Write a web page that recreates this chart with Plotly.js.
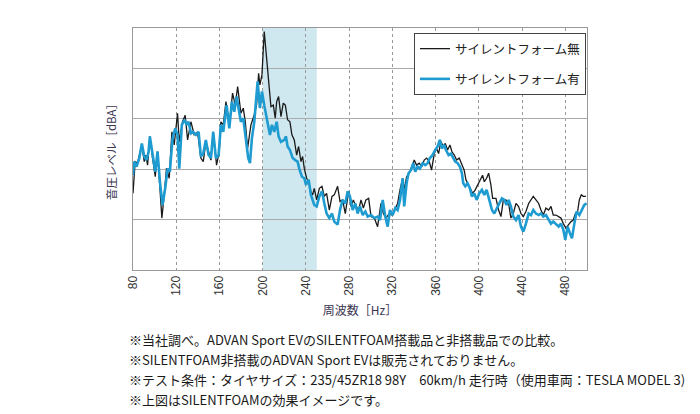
<!DOCTYPE html>
<html>
<head>
<meta charset="utf-8">
<script src="https://cdn.plot.ly/plotly-3.0.1.min.js"></script>
<style>
html,body{margin:0;padding:0;background:#fff;}
#chart{width:700px;height:414px;}
</style>
</head>
<body>
<div id="chart"></div>
<script>
// Frequency [Hz] and level (relative dBA units)
var freqNoFoam = [80,82,84.2,88.2,90.4,91.9,93.5,95.6,98.1,100.6,102.7,104.9,106.7,108.9,111,113.5,116,118.1,121.2,122.8,125.8,128.3,130.5,133.6,136.6,139.7,142.8,145,147.4,149.9,152.1,154.2,157.3,159.8,161.3,163.5,166,169.1,172.1,174.6,176.8,179.8,182,183.9,186,189.1,192.2,194.3,196.2,197.4,199.3,201.4,203,204.5,206.1,207.6,209.8,211.6,212.9,214.7,216.9,219,220.9,223,225.2,227,229.2,231.4,233.2,235.4,236.9,238.5,240.6,242.5,244.6,246.2,247.7,249.9,252.4,254.8,257,259.1,261.6,264.1,266.2,269.3,271.5,273.9,276.4,279.5,281.7,283.8,286.3,288.8,290.9,293.1,295.5,298,300.2,303.2,306.3,309.4,311.6,314,317.1,319.6,322.7,324.8,327,329.5,330.9,333.1,335.6,338,340.2,342.3,344.8,347.3,349.4,351.6,354.1,356.2,358.7,360.8,362.7,364.9,367,368.9,371,373.2,375,377.2,379.4,381.8,384.3,386.4,388,389.5,391.7,394.2,396.6,398.8,400.9,403.4,405,407.1,409,411.1,412.7,415.8,418.2,420.4,422.6,425,427.5,429.6,431.8,434.3,436.7,438.9,441.1,443.5,446,448.2,450.3,452.8,455.3,457.4,459.6,462,464.5,466.7,468.8,471.3,473.8,475.9,478.1,480.5,483,485.2,487.3,489.2,491.3,492.9,494.7,496.6,499];
var levelNoFoam = [15.2,21.5,21.2,24.8,21.5,22.8,20.8,26.5,22.2,18.5,23.5,16.2,10.3,14.9,20.2,18.2,27.4,24.8,31.1,25.4,29.4,30.7,25.8,29.4,26.8,27.4,22.2,21.5,25.4,23.5,21.8,27.4,20.8,23.5,29.4,28.8,33.4,28.8,35.1,32.7,36.4,31.1,32.1,29.4,24.1,28.8,30.8,32.7,39,36.7,38.7,47.3,43.3,40,35.4,32.4,32.7,30.1,33.4,34.4,30.4,33.1,32.7,29.8,29.4,26.8,25.8,22.8,24.5,21.5,22.5,20.1,18.2,17.5,15.5,14.9,16.2,13.9,16.2,16.6,14.6,15.2,11.9,14.6,14.9,16.6,13.6,13.9,11.2,15.6,12.6,13.9,12.6,11.9,13.9,12.3,13.9,14.2,10.6,10.3,8.6,13.2,11.2,10.3,11.2,10.9,12.3,13.2,15.9,18.2,15.9,18.5,19.2,20.5,21.8,20.8,21.2,20.5,21.8,22.2,21.5,19.8,23.1,24.1,23.1,25.5,24.5,25.1,23.8,24.8,23.5,22.8,21.8,22.2,20.8,19.8,17.9,17.2,16.2,15.2,15.9,16.9,17.9,18.8,17.5,18.2,19.2,16.9,14.2,14.2,11.9,10.6,13.9,13.9,13.2,10.3,11.2,13.2,12.6,11.2,10.6,11.6,13.2,13.9,14.6,13.9,13.2,11.9,10.9,12.3,11.9,12.6,10.9,10.9,10.6,10.3,9.2,8.3,9,9.6,9.9,11.2,11.6,13.9,14.9,14.6,14.6];

var freqFoam = [80,81.1,83.3,85.8,88.2,90.4,92.5,94.4,95.6,98.1,100.6,102.7,104.9,107.3,109.8,112,114.1,116.6,119.1,121.2,122.8,125.2,127.7,129.6,131.4,133.6,135.7,138.2,140.7,142.8,145,147.4,149.9,152.1,154.2,156.7,159.2,161.3,163.5,166.6,169.1,171.5,173.7,175.8,177.7,179.8,182,184.5,186.6,188.2,190,192.2,193.7,195.3,197.4,199.3,201.4,204.5,206.7,208.5,210.7,212.9,214.7,216.9,220,221.5,223,225.2,227.7,230.1,232.3,233.8,236.3,238.5,240,242.5,244.6,247.7,249.9,252.4,254.8,257,259.1,261.6,264.1,266.2,269.3,271.5,273.9,276.4,278.6,280.7,283.2,285.7,287.8,290,292.5,294.9,297.1,300.2,303.2,306.3,308.5,311,313.4,315.6,317.7,320.2,322.7,324.8,327,329.5,330.9,333.1,334.9,337.1,339.3,341.1,343.3,345.4,347.9,350.4,352.5,354.7,357.1,359.6,361.8,363.9,365.8,367.9,369.5,372,374.1,376.3,378.1,380.3,382.4,384.3,385.5,387.4,389.5,391.7,393.5,395.7,397.9,400.3,402.8,405,407.1,409.6,412.1,414.2,416.4,418.9,421.3,423.5,425.6,427.5,429.6,431.8,434.3,436.7,438.9,441.1,443.5,446,448.2,450.3,452.8,455.3,457.4,459.6,462,464.5,466.7,468.8,471.3,473.8,475.9,478.1,479.9,482.1,484.2,486.1,488.3,490.4,492.9,495.4,497.5,499.7];
var levelFoam = [18.8,21.5,20.5,22.2,25.1,22.5,21.8,23.5,26.5,22.8,19.5,23.5,17.5,12.9,16.2,20.1,19.5,26.1,28.1,26.8,20.1,28.8,29.8,28.8,29.4,27.1,27.4,26.8,27.4,22.5,23.1,25.8,22.8,22.2,27.4,22.2,22.8,28.8,27.4,32.7,28.1,33.4,31.4,34.4,32.1,29.4,30.1,25.4,22.2,21.2,26.1,29.4,32.7,37.4,32.1,35.4,32.7,28.8,26.8,28.8,27.4,29.4,26.5,25.4,25.8,26.5,24.5,23.8,22.2,21.8,21.5,20.1,18.5,18.2,16.9,17.9,14.9,12.9,12.6,14.6,15.6,13.2,11.2,10.3,11.2,9.6,9,11.9,13.9,13.2,15.6,14.6,11.9,13.2,11.2,12.6,10.9,11.6,10.6,10.9,10.3,10.6,9.9,13.9,10.6,8.6,11.9,10.9,12.3,11.9,13.9,18.2,12.6,17.2,19.2,19.8,21.2,19.5,20.5,20.1,21.2,20.8,21.2,22.2,22.8,23.8,24.5,25.8,24.1,24.8,23.8,22.8,23.1,22.2,21.5,21.2,20.5,19.2,17.2,16.6,17.2,16.2,14.6,15.2,13.9,15.2,15.9,14.9,15.9,13.9,11.9,11.2,12.3,13.2,14.2,13.9,12.9,13.9,12.6,10.6,9.9,10.9,8.6,7.6,9.2,11.2,10.9,11.9,11.2,10.9,11.2,10.6,10.9,9.9,9.2,9.6,9,8.6,9.2,8,6,8.6,7.3,6.3,9.2,11.6,10.9,11.9,12.9,13.2];

var tickFreqs = [80,120,160,200,240,280,320,360,400,440,480];
var seriesNames = ['サイレントフォーム無','サイレントフォーム有'];
var xTitle = '周波数［Hz］';
var yTitle = '音圧レベル［dBA］';
var highlightBand = [200, 250];
var notes = [
  '※当社調べ。ADVAN Sport EVのSILENTFOAM搭載品と非搭載品での比較。',
  '※SILENTFOAM非搭載のADVAN Sport EVは販売されておりません。',
  '※テスト条件：タイヤサイズ：235/45ZR18 98Y　60km/h 走行時（使用車両：TESLA MODEL 3)',
  '※上図はSILENTFOAMの効果イメージです。'
];

var JP = '"Noto Sans CJK JP", "Noto Sans", sans-serif';

var traces = [
  {x: freqNoFoam, y: levelNoFoam, type: 'scatter', mode: 'lines', name: seriesNames[0],
   line: {color: '#1a1a1a', width: 1.3}, legendgroup: 'a'},
  {x: freqFoam, y: levelFoam, type: 'scatter', mode: 'lines', name: seriesNames[1],
   line: {color: '#1e9bd0', width: 2.6}, legendgroup: 'b'}
];

var noteY = [339, 359, 379, 399];
var annotations = notes.map(function (t, i) {
  return {text: t, xref: 'paper', yref: 'paper', x: (127 - 133) / 454, y: (270 - noteY[i]) / 242,
    xanchor: 'left', yanchor: 'middle', showarrow: false,
    font: {family: JP, size: 13, color: '#1a1a1a'}};
});

var layout = {
  width: 700, height: 414,
  margin: {l: 133, r: 113, t: 28, b: 144},
  paper_bgcolor: '#fff', plot_bgcolor: '#fff',
  showlegend: true,
  legend: {x: (414 - 133) / 454, y: (270 - 33) / 242, xanchor: 'left', yanchor: 'top',
    bordercolor: '#444', borderwidth: 1, bgcolor: '#fff',
    font: {family: JP, size: 12.5, color: '#222'},
    traceorder: 'grouped', tracegroupgap: 11, itemwidth: 30},
  xaxis: {range: [80, 500], tickvals: tickFreqs, ticktext: tickFreqs.map(String),
    tickangle: -90, ticks: '', showgrid: true, gridcolor: '#999', griddash: 'dot', gridwidth: 1,
    showline: true, linecolor: '#999', mirror: true, zeroline: false,
    tickfont: {family: 'Liberation Sans, Arial, sans-serif', size: 12, color: '#333'},
    title: {text: xTitle, font: {family: JP, size: 12, color: '#3a3550'}, standoff: 11}},
  yaxis: {range: [0, 48], dtick: 10, tick0: 0, showticklabels: false, ticks: '',
    showgrid: true, gridcolor: '#aaa', gridwidth: 1,
    showline: true, linecolor: '#999', mirror: true, zeroline: false,
    title: {text: yTitle, font: {family: JP, size: 11.5, color: '#3a3550'}, standoff: 12}},
  shapes: [{type: 'rect', xref: 'x', yref: 'paper', x0: highlightBand[0], x1: highlightBand[1],
    y0: 0, y1: 1, fillcolor: '#cfe8ef', line: {width: 0}, layer: 'below'}],
  annotations: annotations
};

Plotly.newPlot('chart', traces, layout, {staticPlot: true, displayModeBar: false});
</script>
</body>
</html>
